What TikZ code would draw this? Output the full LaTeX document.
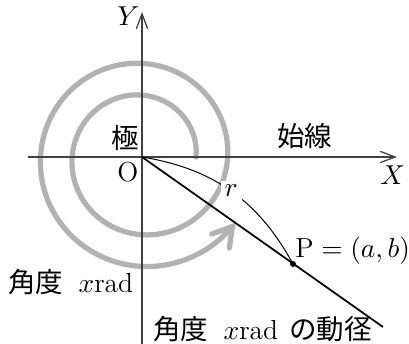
\documentclass[tikz,border=0pt]{standalone}
\usepackage{amsmath,amssymb}
\usepackage{fontspec}
\newfontfamily\jp{Noto Sans CJK JP}
\usepackage{tikz}
\usetikzlibrary{arrows.meta,positioning,calc}

\begin{document}
\begin{tikzpicture}[x=0.4pt, y=0.4pt,
    axis/.style={black!75, line width=0.5pt, -{Straight Barb[length=6pt, width=4.5pt]}},
    spiral/.style={black!30, line width=2.1pt, line cap=round,
        -{Straight Barb[length=7.5pt, width=9pt, line cap=round]}},
    lbl/.style={anchor=base west, inner sep=0pt, font=\fontsize{11}{13}\selectfont}]
    \useasboundingbox (-142, -187) rectangle (267, 157);
    % polar spiral (angle x rad)
    \draw[spiral] plot[domain=0:685, samples=150, smooth]
        ({(54+0.088*\x)*cos(\x)}, {(54+0.088*\x)*sin(\x)});

    % axes
    \coordinate (O) at (0, 0);
    \draw[axis] (-114, 0) -- (255, 0);
    \draw[axis] (0, -187) -- (0, 145);

    % radius vector
    \coordinate (P) at (151, -107);
    \coordinate (E) at (241, -170);
    \draw[line width=0.7pt] (O) -- (E);
    \draw[line width=0.4pt] (O) to[bend left=26]
        node[pos=0.5, fill=white, inner sep=1.5pt, font=\fontsize{11}{13}\selectfont] (r) {$r$} (P);
    \fill (P) circle (3);

    % labels
    \node[lbl] (Y) at (-25, 131) {$Y$};
    \node[lbl] (X) at (238, -28) {$X$};
    \node[lbl] (kyoku) at (-31, 8) {\jp 極};
    \node[lbl] (Olbl) at (-25, -25) {O};
    \node[lbl] (shisen) at (135, 10) {\jp 始線};
    \node[lbl] (Plbl) at (153, -101) {$\mathrm{P}=(a,b)$};
    \node[lbl] (kakudo) at (-134, -136) {{\jp 角度}\hspace{0.55em}$x$rad};
    \node[lbl] (dokei) at (11, -183) {{\jp 角度}\hspace{0.55em}$x$rad\hspace{0.4em}{\jp の動径}};
\end{tikzpicture}
\end{document}
